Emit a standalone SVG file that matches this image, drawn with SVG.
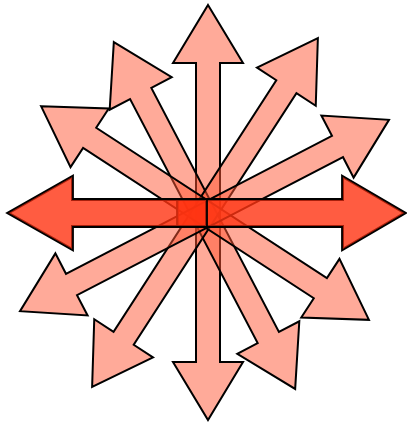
<svg xmlns="http://www.w3.org/2000/svg" width="407" height="424" viewBox="0 0 407 424">
  <style>
    .light { fill: #ff5533; fill-opacity: 0.5; stroke: #000; stroke-width: 2; stroke-linejoin: miter; }
    .dark { fill: #ff3311; fill-opacity: 0.8; stroke: none; }
    .inner { fill: none; stroke: #a8200c; stroke-width: 4; }
    .outline { fill: none; stroke: #000; stroke-width: 1.8; }
  </style>
  <defs>
    <polygon id="shortArrow" points="0,-195.7 35,-137.7 12,-137.7 12,137.7 35,137.7 0,195.7 -35,137.7 -12,137.7 -12,-137.7 -35,-137.7"/>
    <polygon id="longArrow" points="0,-207.8 35,-149.8 12,-149.8 12,149.8 35,149.8 0,207.8 -35,149.8 -12,149.8 -12,-149.8 -35,-149.8"/>
    <polygon id="rightShape" points="177,199 342,199 342,175.5 406,213 342,250.5 342,227 177,227"/>
    <polygon id="leftShape" points="207,199 73,199 73,175.5 7,213 73,250.5 73,227 207,227"/>
    <clipPath id="clipRight"><use href="#rightShape"/></clipPath>
    <clipPath id="clipLeft"><use href="#leftShape"/></clipPath>
  </defs>

  <g id="arrow-vertical">
    <polygon class="light" points="208,5 243,63 220,63 220,362 243,362 208,420 173,362 196,362 196,63 173,63"/>
  </g>
  <g id="arrow-diag-a">
    <use href="#shortArrow" class="light" transform="translate(204.5,215.5) rotate(-27.6)"/>
  </g>
  <g id="arrow-diag-b">
    <use href="#longArrow" class="light" transform="translate(205,212.5) rotate(32.9)"/>
  </g>
  <g id="arrow-diag-c">
    <use href="#shortArrow" class="light" transform="translate(205,213) rotate(-56.9)"/>
  </g>
  <g id="arrow-diag-d">
    <use href="#longArrow" class="light" transform="translate(204.5,215.5) rotate(62.6)"/>
  </g>

  <g id="arrow-right">
    <use href="#rightShape" class="dark"/>
    <use href="#rightShape" class="inner" clip-path="url(#clipRight)"/>
    <use href="#rightShape" class="outline"/>
  </g>
  <g id="arrow-left">
    <use href="#leftShape" class="dark"/>
    <use href="#leftShape" class="inner" clip-path="url(#clipLeft)"/>
    <use href="#leftShape" class="outline"/>
  </g>
</svg>
